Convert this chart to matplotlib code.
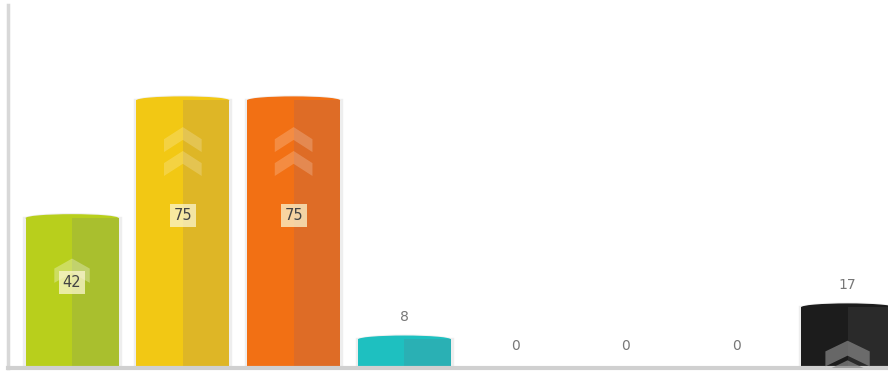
import matplotlib.pyplot as plt
from matplotlib.patches import Ellipse, Polygon

categories = ["A", "B", "C", "D", "E", "F", "G", "H"]
values = [42, 75, 75, 8, 0, 0, 0, 17]
colors_left = ["#b8cf1c", "#f2c814", "#f27014", "#1ec0c0", "#cccccc", "#cccccc", "#cccccc", "#1c1c1c"]
colors_right = ["#a9bf2e", "#deb626", "#de6c26", "#2ab0b4", "#cccccc", "#cccccc", "#cccccc", "#2a2a2a"]
label_inside = [True, True, True, False, False, False, False, False]

fig = plt.figure(figsize=(8.88, 3.74), dpi=100)
ax = fig.add_axes([8 / 888, 6 / 374, 880 / 888, 363 / 374])

x = list(range(len(categories)))
w = 0.84

# soft glow outline
ax.bar(x, values, width=w + 0.02, color="none", edgecolor="#eeeeee", linewidth=2.5, zorder=1)
# domed top cap (drawn under the bar halves so only the upper half shows)
for i, v in enumerate(values):
    if v > 0:
        ax.add_patch(Ellipse((i, v), w + 0.02, 2.8, facecolor="#f0f0f0",
                             edgecolor="none", zorder=1.5))
        ax.add_patch(Ellipse((i, v), w, 2.2, facecolor=colors_left[i],
                             edgecolor="none", zorder=1.6))

# two halves give the shaded cylinder look
ax.bar([i - w / 4 for i in x], values, width=w / 2, color=colors_left, zorder=2)
ax.bar([i + w / 4 for i in x], values, width=w / 2, color=colors_right, zorder=2)


# chevron decorations
def chevron(cx, cy, hw, hh, th, color, alpha):
    pts = [(cx - hw, cy - hh), (cx, cy), (cx + hw, cy - hh),
           (cx + hw, cy - hh - th), (cx, cy - th), (cx - hw, cy - hh - th)]
    ax.add_patch(Polygon(pts, closed=True, facecolor=color, edgecolor="none",
                         alpha=alpha, zorder=5))

for i, v in enumerate(values):
    if v >= 40:
        if v > 60:
            top = v - 0.1 * v
            chevron(i, top, 0.17, 3.4, 3.6, "white", 0.2)
            chevron(i, top - 6.7, 0.17, 3.4, 3.6, "white", 0.2)
        else:
            chevron(i, v * 0.73, 0.16, 2.8, 4.0, "white", 0.3)
    elif v > 10:
        chevron(i, v * 0.45, 0.2, 3.0, 4.2, "#888888", 0.7)
        chevron(i, v * 0.45 - 5.5, 0.2, 3.0, 4.2, "#888888", 0.7)

for i, v in enumerate(values):
    if label_inside[i]:
        ax.text(i, v * 0.57, str(v), ha="center", va="center", fontsize=10.5,
                color="#444444", zorder=6,
                bbox=dict(boxstyle="square,pad=0.25", facecolor="#fbf6d0",
                          edgecolor="none", alpha=0.75))
    else:
        ax.annotate(str(v), (i, v), xytext=(0, 11), textcoords="offset points",
                    ha="center", va="bottom", fontsize=10, color="#777777")

ax.set_xlim(-0.578, 7.365)
ax.set_ylim(0, 101.7)
ax.set_xticks([])
ax.set_yticks([])
for s in ["top", "right"]:
    ax.spines[s].set_visible(False)
ax.spines["left"].set_color("#d8d8d8")
ax.spines["left"].set_linewidth(2.5)
ax.spines["bottom"].set_color("#d0d0d0")
ax.spines["bottom"].set_linewidth(3)

fig.savefig("out.png", dpi=100)
